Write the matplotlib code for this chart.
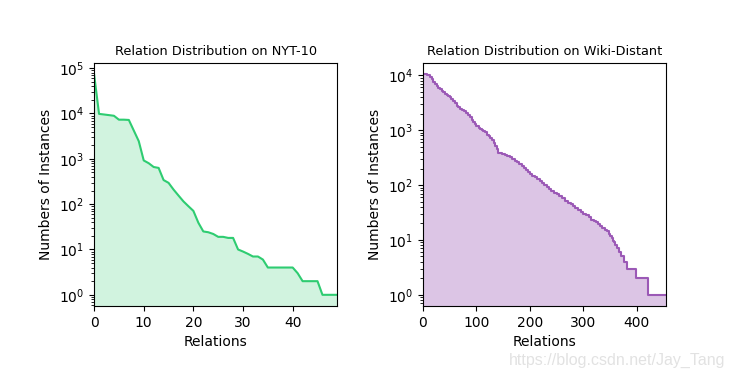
import matplotlib
matplotlib.use("Agg")
import matplotlib.pyplot as plt

# NYT-10: instances per relation, sorted descending (rank 0..49)
nyt_counts = [74000, 9800, 9500, 9200, 8900, 7300, 7300, 7200, 4200, 2450,
              920, 800, 660, 630, 340, 295, 210, 155, 115, 90,
              71, 39, 25, 24, 22, 19, 19, 18, 18, 10,
              9, 8, 7, 7, 6, 4, 4, 4, 4, 4,
              4, 3, 2, 2, 2, 2, 1, 1, 1, 1]

# Wiki-Distant: breakpoints (rank, count) of the sorted step curve
wiki_rank = [0, 4, 8, 10, 13, 16, 19, 22, 26, 29, 32, 35, 38, 41, 44, 47,
             50, 53, 56, 60, 63, 66, 70, 73, 76, 80, 84, 88, 91, 94, 97,
             100, 104, 107, 110, 113, 116, 120, 123, 126, 129, 132, 135, 138,
             141, 144, 147, 150, 154, 158, 163, 167, 172, 176, 180, 185, 189,
             193, 197, 200, 204, 209, 213, 218, 222, 226, 231, 235, 240, 245,
             250, 255, 260, 266, 271, 276, 281, 285, 290, 295, 300, 305, 310,
             315, 319, 323, 327, 331, 335, 340, 344, 347, 350, 353, 356, 358,
             360, 363, 366, 370, 375, 381, 399, 420, 455]
wiki_count = [10500, 10500, 10300, 10200, 9300, 8500, 7600, 6900, 6300, 5900,
              5600, 5250, 4900, 4550, 4350, 4150, 3950, 3700, 3400, 3080,
              2800, 2590, 2420, 2330, 2240, 2050, 1870, 1700, 1550, 1420,
              1290, 1180, 1100, 1050, 1000, 950, 910, 830, 770, 710,
              660, 590, 515, 450, 390, 380, 372, 365, 347, 332,
              318, 297, 276, 258, 240, 224, 205, 188, 170, 158,
              148, 138, 128, 119, 111, 102, 91, 84, 79, 73,
              68, 62, 57, 51, 48, 45, 42, 38, 35, 32,
              30, 28, 26, 23.5, 22, 21, 19.5, 18, 16.5, 15,
              14.5, 13, 12, 11, 9.5, 9, 8, 7, 6, 5,
              4, 3, 2, 1, 1]

green = "#2ecc71"
purple = "#9b59b6"

fig = plt.figure(figsize=(7.35, 3.73), dpi=100)
ax1 = fig.add_axes([0.128, 0.180, 0.331, 0.651])
ax2 = fig.add_axes([0.5755, 0.180, 0.331, 0.651])

# left panel
xs = list(range(len(nyt_counts)))
ax1.plot(xs, nyt_counts, color=green, lw=1.5)
ax1.fill_between(xs, nyt_counts, color=green, alpha=0.22, lw=0)
ax1.set_yscale("log")
ax1.set_xlim(0, len(nyt_counts) - 1)
ax1.set_title("Relation Distribution on NYT-10", fontsize=9.3)
ax1.set_xlabel("Relations", fontsize=10)
ax1.set_ylabel("Numbers of Instances", fontsize=10)

# right panel
ax2.plot(wiki_rank, wiki_count, color=purple, lw=1.5, drawstyle="steps-post")
ax2.fill_between(wiki_rank, wiki_count, color=purple, alpha=0.35, lw=0, step="post")
ax2.set_yscale("log")
ax2.set_xlim(0, wiki_rank[-1])
ax2.set_title("Relation Distribution on Wiki-Distant", fontsize=9.3)
ax2.set_xlabel("Relations", fontsize=10)
ax2.set_ylabel("Numbers of Instances", fontsize=10)

for ax in (ax1, ax2):
    ax.tick_params(labelsize=10)

fig.text(0.987, 0.035, "https://blog.csdn.net/Jay_Tang", ha="right", va="center",
         fontsize=11.5, color="#e2e2e2", family="Liberation Sans")

fig.savefig("out.png", dpi=100)
